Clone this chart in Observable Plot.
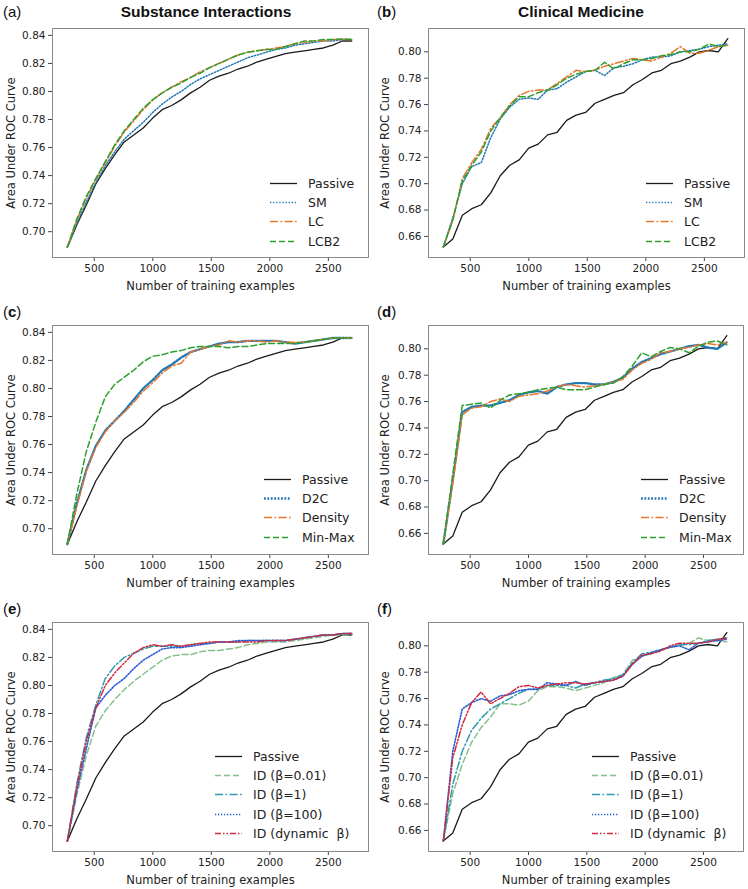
<!DOCTYPE html>
<html>
<head>
<meta charset="utf-8">
<script src="https://cdn.jsdelivr.net/npm/d3@7"></script>
<script src="https://cdn.jsdelivr.net/npm/@observablehq/plot@0.6"></script>
<style>
  body { margin: 0; background: #fff; }
  #root { position: relative; width: 748px; height: 889px; overflow: hidden; background: #fff; font-family: "DejaVu Sans", sans-serif; }
  .panel { position: absolute; }
  .tag { position: absolute; font-family: "Liberation Sans", Arial, sans-serif; font-size: 15px; color: #111; line-height: 1; }
  .title { position: absolute; font-family: "Liberation Sans", Arial, sans-serif; font-weight: bold; font-size: 15.5px; color: #111; transform: translateX(-50%); white-space: nowrap; line-height: 1; }
  .legend { position: absolute; font-family: "DejaVu Sans", sans-serif; font-size: 12.5px; color: #222; }
  .legend .row { position: absolute; white-space: nowrap; height: 19px; }
  .legend svg { position: absolute; top: 0; }
  .legend span { position: absolute; top: 1px; line-height: 17px; white-space: pre; }
</style>
</head>
<body>
<div id="root"></div>
<script>
// ---------------- data ----------------
const trainingSizes = [270, 351, 432, 513, 594, 675, 756, 837, 918, 999, 1080, 1161, 1242, 1323, 1404, 1485, 1566, 1647, 1728, 1809, 1890, 1971, 2052, 2133, 2214, 2295, 2376, 2457, 2538, 2619, 2700];
const xTicks = [500, 1000, 1500, 2000, 2500];
const yTicksSI = [0.70, 0.72, 0.74, 0.76, 0.78, 0.80, 0.82, 0.84];
const yTicksCM = [0.66, 0.68, 0.70, 0.72, 0.74, 0.76, 0.78, 0.80];
const panelTitles = ["Substance Interactions", "Clinical Medicine"];
const panelTags = ["a", "b", "c", "d", "e", "f"];

// Substance Interactions (left column)
const passiveSI = [0.689, 0.705, 0.719, 0.734, 0.745, 0.755, 0.764, 0.769, 0.774, 0.781, 0.787, 0.790, 0.794, 0.799, 0.803, 0.808, 0.811, 0.813, 0.816, 0.818, 0.821, 0.823, 0.825, 0.827, 0.828, 0.829, 0.830, 0.831, 0.833, 0.836, 0.836];
const smSI = [0.689, 0.706, 0.721, 0.735, 0.747, 0.757, 0.766, 0.772, 0.778, 0.785, 0.791, 0.796, 0.800, 0.805, 0.809, 0.812, 0.815, 0.818, 0.821, 0.824, 0.826, 0.828, 0.830, 0.831, 0.833, 0.834, 0.835, 0.836, 0.836, 0.837, 0.837];
const lcSI = [0.689, 0.708, 0.724, 0.737, 0.749, 0.761, 0.771, 0.779, 0.787, 0.794, 0.799, 0.803, 0.807, 0.810, 0.814, 0.817, 0.820, 0.823, 0.826, 0.828, 0.829, 0.830, 0.831, 0.832, 0.834, 0.835, 0.836, 0.836, 0.837, 0.837, 0.837];
const lcb2SI = [0.689, 0.709, 0.725, 0.738, 0.750, 0.762, 0.772, 0.780, 0.788, 0.794, 0.799, 0.803, 0.806, 0.810, 0.813, 0.817, 0.820, 0.823, 0.826, 0.828, 0.829, 0.830, 0.830, 0.832, 0.834, 0.836, 0.836, 0.837, 0.837, 0.8375, 0.837];
const d2cSI = [0.689, 0.718, 0.742, 0.759, 0.770, 0.777, 0.784, 0.792, 0.800, 0.806, 0.813, 0.817, 0.822, 0.826, 0.828, 0.830, 0.832, 0.833, 0.833, 0.834, 0.834, 0.834, 0.834, 0.833, 0.832, 0.833, 0.834, 0.835, 0.836, 0.836, 0.836];
const densitySI = [0.689, 0.716, 0.741, 0.758, 0.769, 0.777, 0.783, 0.790, 0.798, 0.804, 0.811, 0.816, 0.818, 0.826, 0.828, 0.830, 0.831, 0.834, 0.833, 0.834, 0.834, 0.833, 0.834, 0.833, 0.833, 0.833, 0.834, 0.835, 0.836, 0.836, 0.836];
const minMaxSI = [0.689, 0.725, 0.755, 0.776, 0.794, 0.803, 0.808, 0.813, 0.819, 0.823, 0.824, 0.826, 0.827, 0.829, 0.830, 0.830, 0.830, 0.829, 0.830, 0.830, 0.831, 0.832, 0.832, 0.832, 0.832, 0.833, 0.834, 0.835, 0.836, 0.836, 0.836];
const id001SI = [0.689, 0.722, 0.750, 0.771, 0.782, 0.790, 0.797, 0.803, 0.808, 0.813, 0.818, 0.821, 0.822, 0.822, 0.824, 0.825, 0.825, 0.826, 0.827, 0.829, 0.830, 0.831, 0.831, 0.831, 0.832, 0.833, 0.834, 0.835, 0.836, 0.836, 0.836];
const id1SI = [0.689, 0.730, 0.763, 0.786, 0.805, 0.814, 0.820, 0.823, 0.826, 0.828, 0.828, 0.828, 0.828, 0.829, 0.830, 0.830, 0.831, 0.831, 0.831, 0.832, 0.832, 0.832, 0.832, 0.832, 0.833, 0.834, 0.835, 0.836, 0.836, 0.837, 0.837];
const id100SI = [0.689, 0.725, 0.755, 0.784, 0.793, 0.800, 0.805, 0.812, 0.818, 0.822, 0.826, 0.827, 0.827, 0.828, 0.829, 0.830, 0.831, 0.831, 0.832, 0.832, 0.832, 0.832, 0.832, 0.832, 0.833, 0.834, 0.835, 0.836, 0.836, 0.837, 0.837];
const idDynSI = [0.689, 0.728, 0.760, 0.784, 0.800, 0.809, 0.816, 0.823, 0.827, 0.829, 0.828, 0.829, 0.828, 0.829, 0.830, 0.831, 0.831, 0.831, 0.831, 0.831, 0.831, 0.832, 0.832, 0.832, 0.833, 0.834, 0.835, 0.836, 0.836, 0.837, 0.837];

// Clinical Medicine (right column)
const passiveCM = [0.652, 0.658, 0.676, 0.681, 0.684, 0.693, 0.706, 0.714, 0.718, 0.727, 0.730, 0.737, 0.739, 0.748, 0.752, 0.754, 0.761, 0.764, 0.767, 0.769, 0.775, 0.779, 0.784, 0.786, 0.791, 0.793, 0.796, 0.800, 0.801, 0.800, 0.810];
const smCM = [0.652, 0.674, 0.700, 0.713, 0.716, 0.735, 0.749, 0.758, 0.764, 0.765, 0.764, 0.771, 0.772, 0.777, 0.781, 0.785, 0.786, 0.782, 0.788, 0.789, 0.791, 0.794, 0.796, 0.796, 0.797, 0.800, 0.801, 0.802, 0.804, 0.805, 0.806];
const lcCM = [0.652, 0.672, 0.704, 0.716, 0.726, 0.742, 0.750, 0.760, 0.767, 0.770, 0.771, 0.771, 0.776, 0.781, 0.786, 0.785, 0.786, 0.789, 0.791, 0.793, 0.795, 0.794, 0.793, 0.796, 0.799, 0.804, 0.799, 0.799, 0.801, 0.804, 0.805];
const lcb2CM = [0.652, 0.673, 0.702, 0.714, 0.724, 0.740, 0.750, 0.759, 0.766, 0.766, 0.769, 0.771, 0.775, 0.780, 0.783, 0.785, 0.786, 0.792, 0.787, 0.791, 0.794, 0.794, 0.795, 0.797, 0.798, 0.800, 0.800, 0.802, 0.806, 0.804, 0.805];
const d2cCM = [0.652, 0.700, 0.752, 0.756, 0.757, 0.757, 0.759, 0.761, 0.765, 0.767, 0.768, 0.766, 0.771, 0.773, 0.774, 0.774, 0.773, 0.773, 0.775, 0.778, 0.785, 0.790, 0.793, 0.796, 0.798, 0.800, 0.802, 0.803, 0.801, 0.800, 0.805];
const densityCM = [0.652, 0.698, 0.750, 0.755, 0.756, 0.760, 0.762, 0.760, 0.764, 0.765, 0.766, 0.768, 0.771, 0.773, 0.772, 0.771, 0.772, 0.773, 0.775, 0.777, 0.784, 0.789, 0.792, 0.797, 0.798, 0.800, 0.801, 0.803, 0.804, 0.803, 0.805];
const minMaxCM = [0.652, 0.705, 0.757, 0.758, 0.759, 0.755, 0.761, 0.765, 0.766, 0.767, 0.769, 0.770, 0.771, 0.769, 0.769, 0.769, 0.771, 0.773, 0.774, 0.779, 0.787, 0.797, 0.794, 0.798, 0.801, 0.800, 0.797, 0.802, 0.805, 0.806, 0.803];
const id001CM = [0.652, 0.688, 0.710, 0.727, 0.738, 0.746, 0.756, 0.756, 0.755, 0.758, 0.766, 0.769, 0.769, 0.768, 0.766, 0.768, 0.770, 0.772, 0.776, 0.778, 0.789, 0.792, 0.794, 0.797, 0.799, 0.800, 0.802, 0.806, 0.804, 0.804, 0.803];
const id1CM = [0.652, 0.695, 0.720, 0.736, 0.745, 0.752, 0.756, 0.760, 0.764, 0.767, 0.767, 0.770, 0.770, 0.770, 0.768, 0.771, 0.772, 0.774, 0.775, 0.778, 0.787, 0.794, 0.795, 0.797, 0.799, 0.801, 0.801, 0.802, 0.804, 0.805, 0.806];
const id100CM = [0.652, 0.720, 0.752, 0.757, 0.760, 0.758, 0.762, 0.763, 0.766, 0.767, 0.767, 0.772, 0.771, 0.770, 0.773, 0.770, 0.772, 0.773, 0.774, 0.777, 0.786, 0.792, 0.795, 0.797, 0.799, 0.800, 0.797, 0.802, 0.803, 0.804, 0.805];
const idDynCM = [0.652, 0.715, 0.740, 0.757, 0.765, 0.756, 0.760, 0.764, 0.769, 0.770, 0.768, 0.770, 0.771, 0.772, 0.772, 0.771, 0.772, 0.773, 0.774, 0.777, 0.786, 0.793, 0.794, 0.796, 0.800, 0.802, 0.802, 0.802, 0.803, 0.805, 0.806];

// ---------------- styles ----------------
const ST = {
  passive: {color: "#1a1a1a", dash: null, width: 1.3},
  sm:      {color: "#1f77b4", dash: "1.3,1.8", width: 1.5},
  lc:      {color: "#e8772e", dash: "8,2.5,1.6,2.5", width: 1.5},
  lcb2:    {color: "#2ca02c", dash: "6,3", width: 1.5},
  d2c:     {color: "#1f77b4", dash: "1.8,1.6", width: 2.3},
  density: {color: "#e8772e", dash: "8,2.5,1.6,2.5", width: 1.5},
  minmax:  {color: "#2ca02c", dash: "6,3", width: 1.5},
  id001:   {color: "#86c08c", dash: "6,3", width: 1.5},
  id1:     {color: "#2e9bb0", dash: "8,2.5,1.6,2.5", width: 1.5},
  id100:   {color: "#2a5bd7", dash: "1.3,1.7", width: 1.6},
  iddyn:   {color: "#d0293a", dash: "6,2,1.5,2,1.5,2", width: 1.5}
};

const root = document.getElementById("root");
const leftDomain = [0.6816, 0.8449];
const rightDomain = [0.644, 0.8177];

const panels = [
  {tag: 0, left: 0,   top: 0,   ml: 52, mr: 6, dom: leftDomain,  ticks: yTicksSI, legend: [270, 183],
   series: [["Passive", passiveSI, ST.passive], ["SM", smSI, ST.sm], ["LC", lcSI, ST.lc], ["LCB2", lcb2SI, ST.lcb2]]},
  {tag: 1, left: 374, top: 0,   ml: 54, mr: 4, dom: rightDomain, ticks: yTicksCM, legend: [272, 183],
   series: [["Passive", passiveCM, ST.passive], ["SM", smCM, ST.sm], ["LC", lcCM, ST.lc], ["LCB2", lcb2CM, ST.lcb2]]},
  {tag: 2, left: 0,   top: 297, ml: 52, mr: 6, dom: leftDomain,  ticks: yTicksSI, legend: [264, 182],
   series: [["Passive", passiveSI, ST.passive], ["D2C", d2cSI, ST.d2c], ["Density", densitySI, ST.density], ["Min-Max", minMaxSI, ST.minmax]]},
  {tag: 3, left: 374, top: 297, ml: 54, mr: 5, dom: rightDomain, ticks: yTicksCM, legend: [267, 182],
   series: [["Passive", passiveCM, ST.passive], ["D2C", d2cCM, ST.d2c], ["Density", densityCM, ST.density], ["Min-Max", minMaxCM, ST.minmax]]},
  {tag: 4, left: 0,   top: 594, ml: 52, mr: 6, dom: leftDomain,  ticks: yTicksSI, legend: [215, 162],
   series: [["Passive", passiveSI, ST.passive], ["ID (β=0.01)", id001SI, ST.id001], ["ID (β=1)", id1SI, ST.id1], ["ID (β=100)", id100SI, ST.id100], ["ID (dynamic  β)", idDynSI, ST.iddyn]]},
  {tag: 5, left: 374, top: 594, ml: 54, mr: 5, dom: rightDomain, ticks: yTicksCM, legend: [218, 162],
   series: [["Passive", passiveCM, ST.passive], ["ID (β=0.01)", id001CM, ST.id001], ["ID (β=1)", id1CM, ST.id1], ["ID (β=100)", id100CM, ST.id100], ["ID (dynamic  β)", idDynCM, ST.iddyn]]}
];

for (const p of panels) {
  const rows = [];
  p.series.forEach(([name, vals]) => vals.forEach((v, i) => rows.push({series: name, x: trainingSizes[i], y: v})));
  const chart = Plot.plot({
    width: 374,
    height: 296,
    marginLeft: p.ml,
    marginRight: p.mr,
    marginTop: 28,
    marginBottom: 39,
    style: {fontFamily: "DejaVu Sans, sans-serif", fontSize: "10.5px", color: "#222", background: "transparent", overflow: "visible"},
    x: {domain: [143, 2843]},
    y: {domain: p.dom},
    marks: [
      Plot.axisX({ticks: xTicks, tickFormat: d => String(d), tickSize: 4, tickPadding: 3, stroke: "#444", label: null}),
      Plot.axisX({ticks: [], label: "Number of training examples", labelAnchor: "center", labelOffset: 32, labelArrow: "none", fontSize: 11.5}),
      Plot.axisY({ticks: p.ticks, tickFormat: d3.format(".2f"), tickSize: 4, tickPadding: 3, stroke: "#444", label: null}),
      Plot.axisY({ticks: [], label: "Area Under ROC Curve", labelAnchor: "center", labelOffset: p.ml - 6, labelArrow: "none", fontSize: 11.5}),
      ...p.series.map(([name, vals, st]) =>
        Plot.line(rows.filter(r => r.series === name), {
          x: "x", y: "y", stroke: st.color, strokeWidth: st.width,
          strokeDasharray: st.dash || undefined, strokeLinejoin: "round"
        })),
      Plot.frame({stroke: "#8a8a8a", strokeWidth: 1})
    ]
  });
  const wrap = document.createElement("div");
  wrap.className = "panel";
  wrap.style.left = p.left + "px";
  wrap.style.top = p.top + "px";
  wrap.appendChild(chart);
  root.appendChild(wrap);

  // panel tag
  const tag = document.createElement("div");
  tag.className = "tag";
  tag.style.left = (p.left + 3) + "px";
  tag.style.top = (p.top + (p.top === 0 ? 4 : 7)) + "px";
  const letter = panelTags[p.tag];
  tag.innerHTML = "(" + (p.tag === 0 ? letter : "<b>" + letter + "</b>") + ")";
  root.appendChild(tag);

  // legend
  const lg = document.createElement("div");
  lg.className = "legend";
  lg.style.left = (p.left + p.legend[0]) + "px";
  lg.style.top = (p.top + p.legend[1] - 9) + "px";
  p.series.forEach(([name, vals, st], i) => {
    const row = document.createElement("div");
    row.className = "row";
    row.style.top = (i * 19.2) + "px";
    row.innerHTML =
      `<svg width="28" height="19"><line x1="0" x2="27" y1="9.5" y2="9.5" stroke="${st.color}" stroke-width="${st.width}" ${st.dash ? `stroke-dasharray="${st.dash}"` : ""}/></svg>` +
      `<span style="left:38px">${name}</span>`;
    lg.appendChild(row);
  });
  root.appendChild(lg);
}

// column titles
[[206, panelTitles[0]], [581, panelTitles[1]]].forEach(([cx, t]) => {
  const d = document.createElement("div");
  d.className = "title";
  d.style.left = cx + "px";
  d.style.top = "4px";
  d.textContent = t;
  root.appendChild(d);
});
</script>
</body>
</html>
